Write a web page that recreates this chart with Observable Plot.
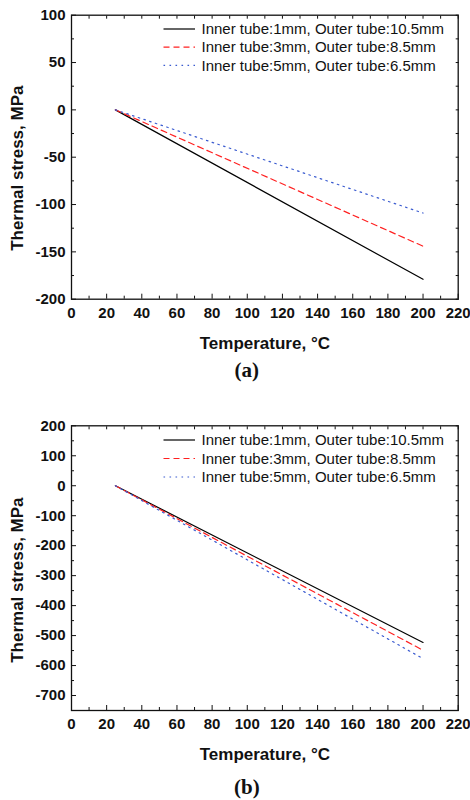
<!DOCTYPE html>
<html><head><meta charset="utf-8">
<script src="https://cdn.jsdelivr.net/npm/d3@7"></script>
<script src="https://cdn.jsdelivr.net/npm/@observablehq/plot@0.6"></script>
<style>
body{margin:0;background:#fff;width:470px;}
.panel{position:relative;width:470px;height:400px;overflow:hidden;}
.panel svg{display:block;}
.legend{position:absolute;left:0;top:0;pointer-events:none;}
</style></head><body>
<div id="a" class="panel"></div>
<div id="b" class="panel"></div>
<script>
const seriesNames = ["Inner tube:1mm, Outer tube:10.5mm", "Inner tube:3mm, Outer tube:8.5mm", "Inner tube:5mm, Outer tube:6.5mm"];
const seriesColors = ["#000000", "#ff2020", "#3a5bd0"];
const seriesDash = [null, "6,4", "1.6,4.4"];
const temperature = [25, 200];
const stressA = [[0, -179], [0, -144], [0, -109]];
const stressB = [[0, -523], [0, -549], [0, -577]];
const xTicks = [0, 20, 40, 60, 80, 100, 120, 140, 160, 180, 200, 220];
const xMinor = [10, 30, 50, 70, 90, 110, 130, 150, 170, 190, 210];
const yTicksA = [-200, -150, -100, -50, 0, 50, 100];
const yMinorA = [-175, -125, -75, -25, 25, 75];
const yTicksB = [-700, -600, -500, -400, -300, -200, -100, 0, 100, 200];
const yMinorB = [-750, -650, -550, -450, -350, -250, -150, -50, 50, 150];

const FONT = "'Liberation Sans', Arial, sans-serif";

function panel(el, cfg) {
  const marks = [];
  cfg.stress.forEach((vals, k) => {
    const data = temperature.map((t, i) => ({t, s: vals[i]}));
    marks.push(Plot.line(data, {x: "t", y: "s", stroke: seriesColors[k], strokeWidth: 1.2, strokeDasharray: seriesDash[k]}));
  });
  const blank = () => "";
  const fmt = (d) => String(d);
  marks.push(
    Plot.axisX(xTicks, {anchor: "bottom", tickSize: 5, dy: -5, tickFormat: blank, label: null, stroke: "#111"}),
    Plot.axisX(xMinor, {anchor: "bottom", tickSize: 3, dy: -3, tickFormat: blank, label: null, stroke: "#111"}),
    Plot.axisX(xTicks.concat(xMinor), {anchor: "top", tickSize: 3, dy: 3, tickFormat: blank, label: null, stroke: "#111"}),
    Plot.axisY(cfg.yTicks, {anchor: "left", tickSize: 5, dx: 5, tickFormat: blank, label: null, stroke: "#111"}),
    Plot.axisY(cfg.yMinor, {anchor: "left", tickSize: 3, dx: 3, tickFormat: blank, label: null, stroke: "#111"}),
    Plot.axisY(cfg.yTicks.concat(cfg.yMinor), {anchor: "right", tickSize: 3, dx: -3, tickFormat: blank, label: null, stroke: "#111"}),
    Plot.axisX(xTicks, {anchor: "bottom", tickSize: 0, tickPadding: cfg.xPad, tickFormat: fmt, label: null, fontSize: 15, fontWeight: "bold", fill: "#111"}),
    Plot.axisY(cfg.yTicks, {anchor: "left", tickSize: 0, tickPadding: 6, tickFormat: fmt, label: null, fontSize: 15, fontWeight: "bold", fill: "#111"}),
    Plot.frame({stroke: "#111", strokeWidth: 1.3}),
    Plot.text(["Temperature, °C"], {frameAnchor: "bottom", dy: 44, lineAnchor: "middle", textAnchor: "middle", fontSize: 17, fontWeight: "bold", fill: "#111"}),
    Plot.text(["Thermal stress, MPa"], {frameAnchor: "left", dx: -54, dy: cfg.yTitleDy, rotate: -90, textAnchor: "middle", lineAnchor: "middle", fontSize: 17, fontWeight: "bold", fill: "#111"}),
    Plot.text([cfg.tag], {frameAnchor: "bottom", dx: -18, dy: cfg.tagDy, lineAnchor: "middle", textAnchor: "middle", fontSize: 21, fontWeight: "bold", fontFamily: "'Liberation Serif', 'Times New Roman', serif", fill: "#111"})
  );
  const chart = Plot.plot({
    width: 470, height: 400,
    marginLeft: 71, marginRight: 12.3, marginTop: cfg.top, marginBottom: cfg.bottom,
    style: {fontFamily: FONT, background: "#fff", overflow: "visible"},
    x: {domain: [0, 220]},
    y: {domain: cfg.yDomain},
    marks
  });
  el.appendChild(chart);

  const leg = d3.select(el).append("svg").attr("class", "legend").attr("width", 470).attr("height", 400);
  seriesNames.forEach((name, k) => {
    const y = cfg.legTop + k * cfg.legStep;
    leg.append("line").attr("x1", 163.5).attr("x2", 195).attr("y1", y).attr("y2", y)
      .attr("stroke", seriesColors[k]).attr("stroke-width", 1.2)
      .attr("stroke-dasharray", seriesDash[k]);
    leg.append("text").attr("x", 201.5).attr("y", y).attr("dy", "0.35em")
      .attr("font-family", FONT).attr("font-size", 15).attr("fill", "#111").text(name);
  });
}

panel(document.getElementById("a"), {
  stress: stressA, yDomain: [-200, 100], yTicks: yTicksA, yMinor: yMinorA,
  top: 14.7, bottom: 101.3, xPad: 8.5, yTitleDy: 11, tag: "(a)", tagDy: 71,
  legTop: 29, legStep: 18.2
});
panel(document.getElementById("b"), {
  stress: stressB, yDomain: [-750, 200], yTicks: yTicksB, yMinor: yMinorB,
  top: 25.3, bottom: 90, xPad: 8, yTitleDy: 12, tag: "(b)", tagDy: 77,
  legTop: 40, legStep: 18.5
});
</script>
</body></html>
